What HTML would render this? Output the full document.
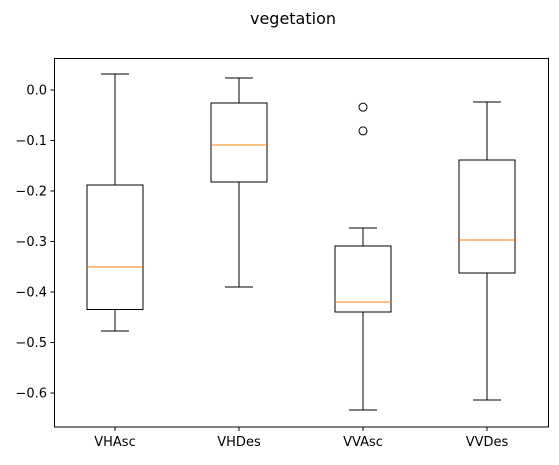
<!DOCTYPE html>
<html><head><meta charset="utf-8"><style>
body{margin:0;background:#fff;font-family:"DejaVu Sans","Liberation Sans",sans-serif;}
svg text{font-family:"DejaVu Sans","Liberation Sans",sans-serif;}
</style></head><body>
<svg id="chart" width="559" height="461" xmlns="http://www.w3.org/2000/svg">
<text x="293" y="24" font-size="16" text-anchor="middle">vegetation</text>
<g id="plot" shape-rendering="crispEdges"></g>
<rect shape-rendering="crispEdges" x="54.5" y="58.5" width="494" height="368.5" fill="none" stroke="#000" stroke-width="1"/>
</svg>
<script>
const categories=["VHAsc","VHDes","VVAsc","VVDes"];
const whiskerHigh=[0.032,0.024,-0.273,-0.024];
const q3=[-0.188,-0.026,-0.309,-0.139];
const medians=[-0.350,-0.109,-0.420,-0.297];
const q1=[-0.435,-0.182,-0.440,-0.362];
const whiskerLow=[-0.477,-0.390,-0.634,-0.614];
const fliers=[[],[],[-0.034,-0.081],[]];
const yTicks=[0.0,-0.1,-0.2,-0.3,-0.4,-0.5,-0.6];
const yTickLabels=["0.0","−0.1","−0.2","−0.3","−0.4","−0.5","−0.6"];

const NS="http://www.w3.org/2000/svg";
const g=document.getElementById("plot");
function y(v){return 90-v*505;}
function x(i){return 115+i*124;}
function mk(t,a){const e=document.createElementNS(NS,t);for(const k in a)e.setAttribute(k,a[k]);g.appendChild(e);return e;}
yTicks.forEach((v,i)=>{
  const t=mk("line",{x1:50.5,x2:54.5,y1:y(v),y2:y(v),stroke:"#000"});
  
  
  const l=mk("text",{x:47,y:y(v)+4.5,"font-size":13,"text-anchor":"end"});
  l.textContent=yTickLabels[i];
  
  
});
categories.forEach((c,i)=>{
  const cx=x(i),hw=28;
  const t=mk("line",{x1:cx,x2:cx,y1:427,y2:431,stroke:"#000"});
  
  
  const l=mk("text",{x:cx,y:446,"font-size":13,"text-anchor":"middle"});
  l.textContent=c;
  
  
  const b=mk("rect",{x:cx-hw,y:y(q3[i]),width:2*hw,height:y(q1[i])-y(q3[i]),fill:"none",stroke:"#000"});
  
  
  const w1=mk("line",{x1:cx,x2:cx,y1:y(whiskerHigh[i]),y2:y(q3[i]),stroke:"#000"});
  
  
  const w2=mk("line",{x1:cx,x2:cx,y1:y(q1[i]),y2:y(whiskerLow[i]),stroke:"#000"});
  
  
  const c1=mk("line",{x1:cx-14,x2:cx+14,y1:y(whiskerHigh[i]),y2:y(whiskerHigh[i]),stroke:"#000"});
  
  
  const c2=mk("line",{x1:cx-14,x2:cx+14,y1:y(whiskerLow[i]),y2:y(whiskerLow[i]),stroke:"#000"});
  
  
  const m=mk("line",{x1:cx-hw,x2:cx+hw,y1:y(medians[i]),y2:y(medians[i]),stroke:"#ff7f0e"});
  
  
  fliers[i].forEach(f=>{
    const o=mk("circle",{cx:cx,cy:y(f),r:4,fill:"none",stroke:"#000","shape-rendering":"auto"});
    
    
  });
});
</script>
</body></html>
